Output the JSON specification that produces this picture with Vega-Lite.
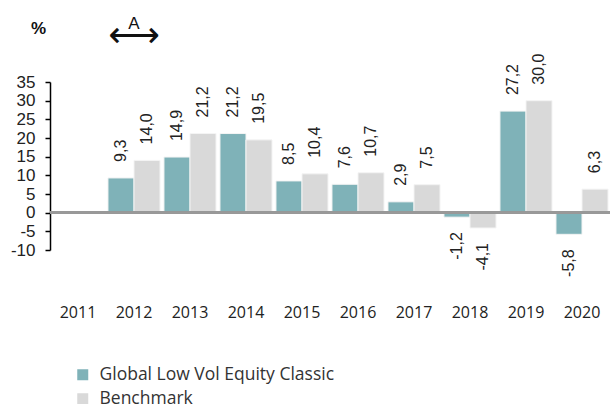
{
  "$schema": "https://vega.github.io/schema/vega-lite/v6.json",
  "width": 560,
  "height": 168,
  "autosize": "none",
  "padding": {"left": 50, "top": 82, "right": 0, "bottom": 154},
  "config": {"view": {"stroke": null}, "font": "Liberation Sans"},
  "resolve": {"axis": {"x": "independent", "y": "independent"}},
  "data": {
    "values": [
      {"year": "2012", "series": "Global Low Vol Equity Classic", "value": 9.3, "label": "9,3"},
      {"year": "2012", "series": "Benchmark", "value": 14.0, "label": "14,0"},
      {"year": "2013", "series": "Global Low Vol Equity Classic", "value": 14.9, "label": "14,9"},
      {"year": "2013", "series": "Benchmark", "value": 21.2, "label": "21,2"},
      {"year": "2014", "series": "Global Low Vol Equity Classic", "value": 21.2, "label": "21,2"},
      {"year": "2014", "series": "Benchmark", "value": 19.5, "label": "19,5"},
      {"year": "2015", "series": "Global Low Vol Equity Classic", "value": 8.5, "label": "8,5"},
      {"year": "2015", "series": "Benchmark", "value": 10.4, "label": "10,4"},
      {"year": "2016", "series": "Global Low Vol Equity Classic", "value": 7.6, "label": "7,6"},
      {"year": "2016", "series": "Benchmark", "value": 10.7, "label": "10,7"},
      {"year": "2017", "series": "Global Low Vol Equity Classic", "value": 2.9, "label": "2,9"},
      {"year": "2017", "series": "Benchmark", "value": 7.5, "label": "7,5"},
      {"year": "2018", "series": "Global Low Vol Equity Classic", "value": -1.2, "label": "-1,2"},
      {"year": "2018", "series": "Benchmark", "value": -4.1, "label": "-4,1"},
      {"year": "2019", "series": "Global Low Vol Equity Classic", "value": 27.2, "label": "27,2"},
      {"year": "2019", "series": "Benchmark", "value": 30.0, "label": "30,0"},
      {"year": "2020", "series": "Global Low Vol Equity Classic", "value": -5.8, "label": "-5,8"},
      {"year": "2020", "series": "Benchmark", "value": 6.3, "label": "6,3"}
    ]
  },
  "layer": [
    {
      "encoding": {
        "x": {
          "field": "year", "type": "nominal",
          "scale": {"domain": ["2011","2012","2013","2014","2015","2016","2017","2018","2019","2020"], "paddingInner": 0.07, "paddingOuter": 0.035},
          "axis": {"title": null, "labelAngle": 0, "domain": false, "ticks": false, "labelPadding": 54, "labelFont": "Open Sans", "labelFontSize": 16, "labelColor": "#222"}
        },
        "xOffset": {"field": "series", "type": "nominal", "scale": {"domain": ["Global Low Vol Equity Classic", "Benchmark"], "paddingInner": 0}},
        "y": {
          "field": "value", "type": "quantitative",
          "scale": {"domain": [-10, 35], "nice": false, "zero": false},
          "axis": {
            "values": [-10,-5,0,5,10,15,20,25,30,35], "tickCount": 10, "grid": false, "labelOverlap": false,
            "labelExpr": "'' + datum.value",
            "domainColor": "#000", "domainWidth": 1.5, "tickColor": "#000", "tickWidth": 1.5, "tickSize": 5,
            "labelPadding": 10, "labelFontSize": 17, "labelColor": "#222",
            "title": "%", "titleAngle": 0, "titleX": -12, "titleY": -54, "titleAlign": "center", "titleBaseline": "middle",
            "titleFontSize": 17, "titleFontWeight": "bold", "titleColor": "#111"
          }
        }
      },
      "layer": [
        {
          "mark": {"type": "bar", "stroke": "#f4f4f4", "strokeWidth": 1},
          "encoding": {
            "color": {
              "field": "series", "type": "nominal",
              "scale": {"domain": ["Global Low Vol Equity Classic", "Benchmark"], "range": ["#7fb2b8", "#d9d9d9"]},
              "legend": {
                "title": null, "orient": "none", "legendX": 24, "legendY": 284, "direction": "vertical",
                "symbolType": "square", "symbolSize": 121, "symbolStrokeWidth": 0, "labelFont": "Open Sans", "labelFontSize": 17.5,
                "labelColor": "#333", "labelOffset": 8, "rowPadding": 5, "labelLimit": 400
              }
            }
          }
        },
        {
          "transform": [{"filter": "datum.value >= 0"}],
          "mark": {"type": "text", "angle": -90, "align": "left", "baseline": "middle", "dx": 16, "fontSize": 16, "color": "#222"},
          "encoding": {"text": {"field": "label"}}
        },
        {
          "transform": [{"filter": "datum.value < 0"}],
          "mark": {"type": "text", "angle": -90, "align": "right", "baseline": "middle", "dx": -15, "fontSize": 16, "color": "#222"},
          "encoding": {"text": {"field": "label"}}
        }
      ]
    },
    {
      "mark": {"type": "rule", "color": "#999", "strokeWidth": 2},
      "encoding": {"y": {"datum": 0, "type": "quantitative", "axis": null}}
    },
    {
      "data": {"values": [{"year": "2012", "mark": "A"}]},
      "mark": {"type": "text", "fontSize": 17, "color": "#111", "baseline": "middle"},
      "encoding": {
        "x": {"field": "year", "type": "nominal", "axis": null},
        "y": {"datum": 50.5, "type": "quantitative", "axis": null},
        "text": {"field": "mark"}
      }
    },
    {
      "data": {"values": [{"year": "2012", "mark": "⟷"}]},
      "mark": {"type": "text", "font": "DejaVu Sans", "fontSize": 36, "color": "#111", "baseline": "middle"},
      "encoding": {
        "x": {"field": "year", "type": "nominal", "axis": null},
        "y": {"datum": 47.2, "type": "quantitative", "axis": null},
        "text": {"field": "mark"}
      }
    }
  ]
}
